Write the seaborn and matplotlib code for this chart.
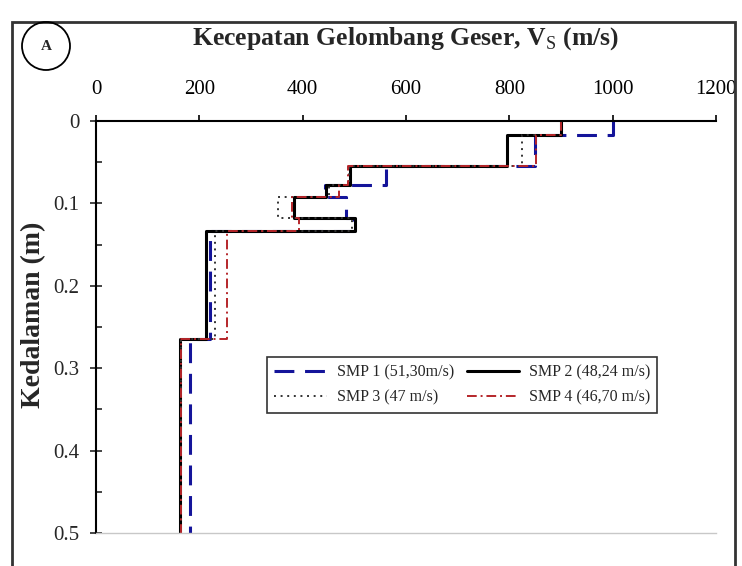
import pandas as pd
import matplotlib
matplotlib.use("Agg")
import matplotlib.pyplot as plt
from matplotlib.patches import Rectangle, Ellipse
from matplotlib.ticker import MultipleLocator
import seaborn as sns

# layer boundaries (m), same layering for every profile
depth_top = [0, 0.017, 0.055, 0.078, 0.092, 0.118, 0.133, 0.265]
depth_bot = [0.017, 0.055, 0.078, 0.092, 0.118, 0.133, 0.265, 0.5]

# shear wave velocity per layer (m/s)
vs_smp1 = [1000, 850, 562, 443, 484, 500, 220, 182]
vs_smp2 = [900, 796, 491, 446, 383, 502, 213, 163]
vs_smp3 = [900, 825, 490, 450, 352, 495, 230, 164]
vs_smp4 = [900, 852, 488, 470, 380, 392, 253, 165]

labels = ["SMP 1 (51,30m/s)", "SMP 2 (48,24 m/s)", "SMP 3 (47 m/s)", "SMP 4 (46,70 m/s)"]
x_ticks = [0, 200, 400, 600, 800, 1000, 1200]
y_ticks = [0, 0.1, 0.2, 0.3, 0.4, 0.5]

rows = []
for lab, vs in zip(labels, [vs_smp1, vs_smp2, vs_smp3, vs_smp4]):
    for top, bot, v in zip(depth_top, depth_bot, vs):
        rows.append((lab, v, top))
        rows.append((lab, v, bot))
df = pd.DataFrame(rows, columns=["profil", "vs", "depth"])

sns.set_style("white")
plt.rcParams["font.family"] = ["Liberation Serif", "DejaVu Serif"]
plt.rcParams["mathtext.fontset"] = "custom"
plt.rcParams["mathtext.rm"] = "Liberation Serif"
plt.rcParams["mathtext.bf"] = "Liberation Serif:bold"

styles = {
    labels[0]: dict(color="#14149a", lw=2.2, linestyle=(0, (6.5, 3.5))),
    labels[1]: dict(color="black", lw=2.2, linestyle="-"),
    labels[2]: dict(color="#333333", lw=1.4, linestyle=(0, (1, 2.4))),
    labels[3]: dict(color="#b5262a", lw=1.4, linestyle=(0, (5, 2, 1, 2))),
}

fig = plt.figure(figsize=(7.42, 5.66), dpi=100)
ax = fig.add_axes([96 / 742, 1 - 533 / 566, 620 / 742, 412 / 566])

handles = {}
for lab in labels:
    sub = df[df["profil"] == lab]
    sns.lineplot(data=sub, x="vs", y="depth", sort=False, estimator=None,
                 legend=False, ax=ax, label=lab, **styles[lab])
    handles[lab] = ax.get_lines()[-1]

ax.set_xlim(0, 1200)
ax.set_ylim(0.5, 0)
ax.xaxis.tick_top()
ax.set_xticks(x_ticks)
ax.set_yticks(y_ticks)
ax.set_yticklabels([f"{t:g}" for t in y_ticks])
ax.yaxis.set_minor_locator(MultipleLocator(0.05))
ax.tick_params(axis="x", which="major", direction="out", length=4.5, width=1.2,
               labelsize=15, pad=11.5, colors="black")
ax.tick_params(axis="y", which="major", direction="inout", length=8, width=1.2,
               labelsize=15, pad=8, left=True)
ax.tick_params(axis="y", which="minor", direction="in", length=4, width=1.2, left=True)
ax.set_xlabel("")
ax.set_ylabel("Kedalaman (m)", fontsize=20, fontweight="bold")
ax.yaxis.set_label_coords(-0.08, 0.53)

for side in ["top", "left"]:
    ax.spines[side].set_linewidth(1.5)
    ax.spines[side].set_color("black")
ax.spines["right"].set_visible(False)
ax.spines["bottom"].set_color("#c8c8c8")
ax.spines["bottom"].set_linewidth(1.0)

order = [labels[0], labels[2], labels[1], labels[3]]
leg = ax.legend([handles[k] for k in order], order, ncol=2, loc="upper left",
                bbox_to_anchor=(0.276, 0.427), fontsize=11.5, frameon=True,
                fancybox=False, edgecolor="black", handlelength=3.3,
                columnspacing=0.8, handletextpad=0.6, borderpad=0.45,
                labelspacing=0.6, borderaxespad=0)
leg.get_frame().set_linewidth(1.2)

fig.text(406 / 742, 1 - 39 / 566, r"Kecepatan Gelombang Geser, V$_\mathrm{S}$ (m/s)",
         ha="center", va="center", fontsize=18.5, fontweight="bold")

# outer frame and panel marker
fig.add_artist(Rectangle((12 / 742, -0.05), (735 - 12) / 742, 1 - 22 / 566 + 0.05,
                         transform=fig.transFigure, fill=False, lw=2, ec="#333333"))
fig.add_artist(Ellipse((46 / 742, 1 - 46 / 566), 48 / 742, 48 / 566,
                       transform=fig.transFigure, fill=False, lw=1.3, ec="black"))
fig.text(46 / 742, 1 - 46 / 566, "A", ha="center", va="center", fontsize=11,
         fontweight="bold")

fig.savefig("out.png", dpi=100)
